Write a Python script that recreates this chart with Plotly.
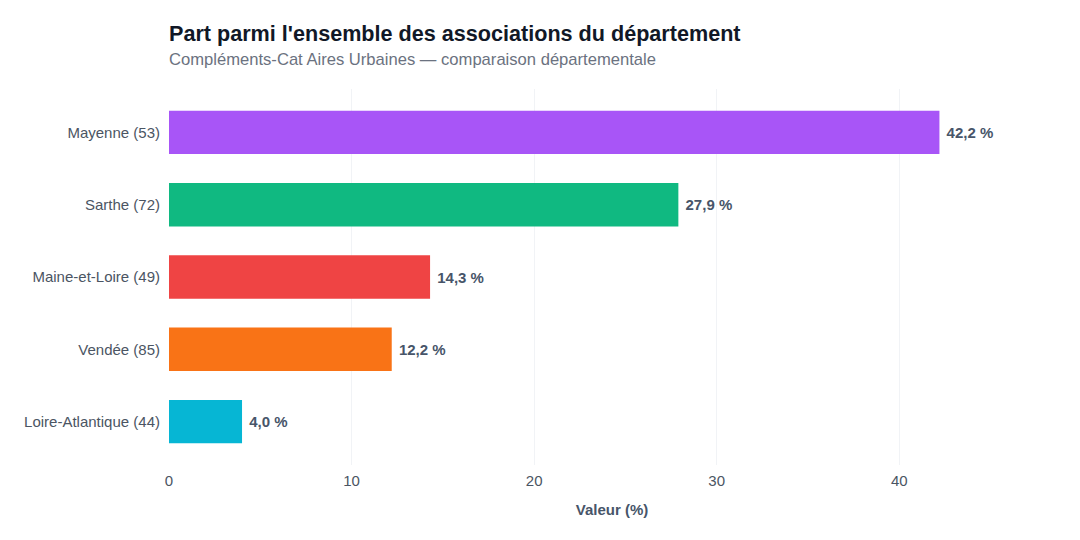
import plotly.graph_objects as go

categories = ["Mayenne (53)", "Sarthe (72)", "Maine-et-Loire (49)", "Vendée (85)", "Loire-Atlantique (44)"]
values = [42.2, 27.9, 14.3, 12.2, 4.0]
labels = ["42,2 %", "27,9 %", "14,3 %", "12,2 %", "4,0 %"]
colors = ["#a855f7", "#10b981", "#ef4444", "#f97316", "#06b6d4"]

FONT = "Liberation Sans, Arial, sans-serif"

fig = go.Figure(go.Bar(
    x=values, y=categories, orientation="h",
    marker=dict(color=colors, line=dict(width=0)),
    text=labels, texttemplate="\u00a0%{text}", textposition="outside",
    textfont=dict(family=FONT, size=15, color="#475569", weight="bold"),
    cliponaxis=False,
    hoverinfo="skip",
))

fig.update_layout(
    width=1080, height=540,
    margin=dict(l=169, r=25, t=89, b=75),
    paper_bgcolor="white", plot_bgcolor="white",
    font=dict(family=FONT, size=15, color="#4b5563"),
    bargap=0.4,
    showlegend=False,
    title=dict(
        text="Part parmi l'ensemble des associations du département",
        x=169/1080, xanchor="left", xref="container",
        y=1 - 33/540, yanchor="middle", yref="container",
        font=dict(family=FONT, size=21.6, color="#111827", weight="bold"),
    ),
    annotations=[dict(
        text="Compléments-Cat Aires Urbaines — comparaison départementale",
        xref="paper", yref="paper", x=0, xanchor="left", xshift=-2,
        y=(465 - 60) / 376, yanchor="middle", showarrow=False,
        font=dict(family=FONT, size=16.6, color="#6b7280"),
    )],
    xaxis=dict(
        range=[0, max(values) * 1.15],
        showgrid=True, gridcolor="#f1f3f6", gridwidth=1,
        zeroline=False, showline=False,
        tickvals=[0, 10, 20, 30, 40],
        ticks="outside", ticklen=2, tickcolor="rgba(0,0,0,0)",
        tickfont=dict(size=15, color="#4b5563"),
        title=dict(text="Valeur (%)", font=dict(size=15, color="#475569", weight="bold"), standoff=16),
    ),
    yaxis=dict(
        autorange=False, range=[4.6, -0.6],
        showgrid=False, zeroline=False, showline=False,
        ticks="outside", ticklen=5, tickcolor="rgba(0,0,0,0)",
        tickfont=dict(size=15, color="#4b5563"),
    ),
)

fig.write_html("out.html")
